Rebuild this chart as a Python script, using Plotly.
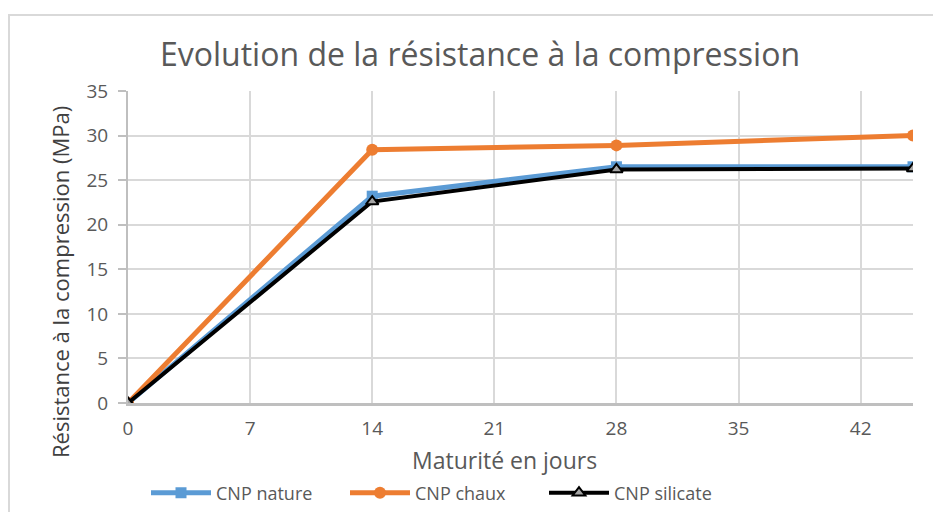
import plotly.graph_objects as go

days = [0, 14, 28, 45]
nature = [0, 23.2, 26.5, 26.5]
chaux = [0, 28.4, 28.9, 30.0]
silicate = [0, 22.6, 26.2, 26.3]
x_ticks = [0, 7, 14, 21, 28, 35, 42]
y_ticks = [0, 5, 10, 15, 20, 25, 30, 35]

FONT = "Open Sans"
GRAY = "#595959"

W, H = 933, 504
L, R, T, B = 120, 28, 83, 109
PW, PH = W - L - R, H - T - B

fig = go.Figure()
fig.add_trace(go.Scatter(x=days, y=nature, name="CNP nature", mode="lines+markers",
                         line=dict(color="#5B9BD5", width=5),
                         marker=dict(symbol="square", size=11, color="#5B9BD5")))
fig.add_trace(go.Scatter(x=days, y=chaux, name="CNP chaux", mode="lines+markers",
                         line=dict(color="#ED7D31", width=5),
                         marker=dict(symbol="circle", size=12, color="#ED7D31")))
fig.add_trace(go.Scatter(x=days, y=silicate, name="CNP silicate", mode="lines+markers",
                         line=dict(color="#000000", width=4),
                         marker=dict(symbol="triangle-up", size=11, color="#A5A5A5",
                                     line=dict(color="#000000", width=2))))

fig.update_layout(
    width=W, height=H,
    margin=dict(l=L, r=R, t=T, b=B, autoexpand=False),
    paper_bgcolor="white", plot_bgcolor="white",
    font=dict(family=FONT, color=GRAY),
    title=dict(text="Evolution de la résistance à la compression",
               x=472 / W, xanchor="center", y=1 - 47 / H, yanchor="middle",
               font=dict(size=32, color=GRAY, family=FONT)),
    xaxis=dict(range=[0, 45], tickvals=x_ticks, ticktext=[str(v) for v in x_ticks],
               showgrid=True, gridcolor="#D9D9D9", gridwidth=2,
               showline=True, linecolor="#BFBFBF", linewidth=3,
               ticks="", tickfont=dict(size=19, color=GRAY), automargin=False,
               ticklabelstandoff=6, zeroline=False),
    yaxis=dict(range=[0, 35], tickvals=y_ticks, ticktext=[str(v) for v in y_ticks],
               showgrid=True, gridcolor="#D9D9D9", gridwidth=2,
               showline=True, linecolor="#BFBFBF", linewidth=2,
               ticks="outside", ticklen=8, tickcolor="#BFBFBF", tickwidth=2,
               tickfont=dict(size=19, color=GRAY), automargin=False,
               ticklabelstandoff=6, zeroline=False),
    annotations=[
        dict(text="Résistance à la compression (MPa)", textangle=-90,
             xref="paper", yref="paper",
             x=(52 - L) / PW, y=(H - B - 274) / PH, xanchor="center", yanchor="middle",
             showarrow=False, font=dict(size=22, color="#404040")),
        dict(text="Maturité en jours",
             xref="paper", yref="paper",
             x=(496 - L) / PW, y=(H - B - 452) / PH, xanchor="center", yanchor="middle",
             showarrow=False, font=dict(size=23, color=GRAY)),
    ],
    legend=dict(orientation="h", x=(138 - L) / PW, xanchor="left",
                y=(H - B - 485) / PH, yanchor="middle",
                font=dict(size=18, color=GRAY), tracegroupgap=0,
                itemwidth=60, entrywidth=124, entrywidthmode="pixels"),
    shapes=[dict(type="rect", xref="paper", yref="paper",
                 x0=(1 - L) / PW, x1=1.1, y0=-0.5, y1=(H - B - 7) / PH,
                 line=dict(color="#D9D9D9", width=2), fillcolor="rgba(0,0,0,0)", layer="below")],
)

fig.write_html("out.html")
